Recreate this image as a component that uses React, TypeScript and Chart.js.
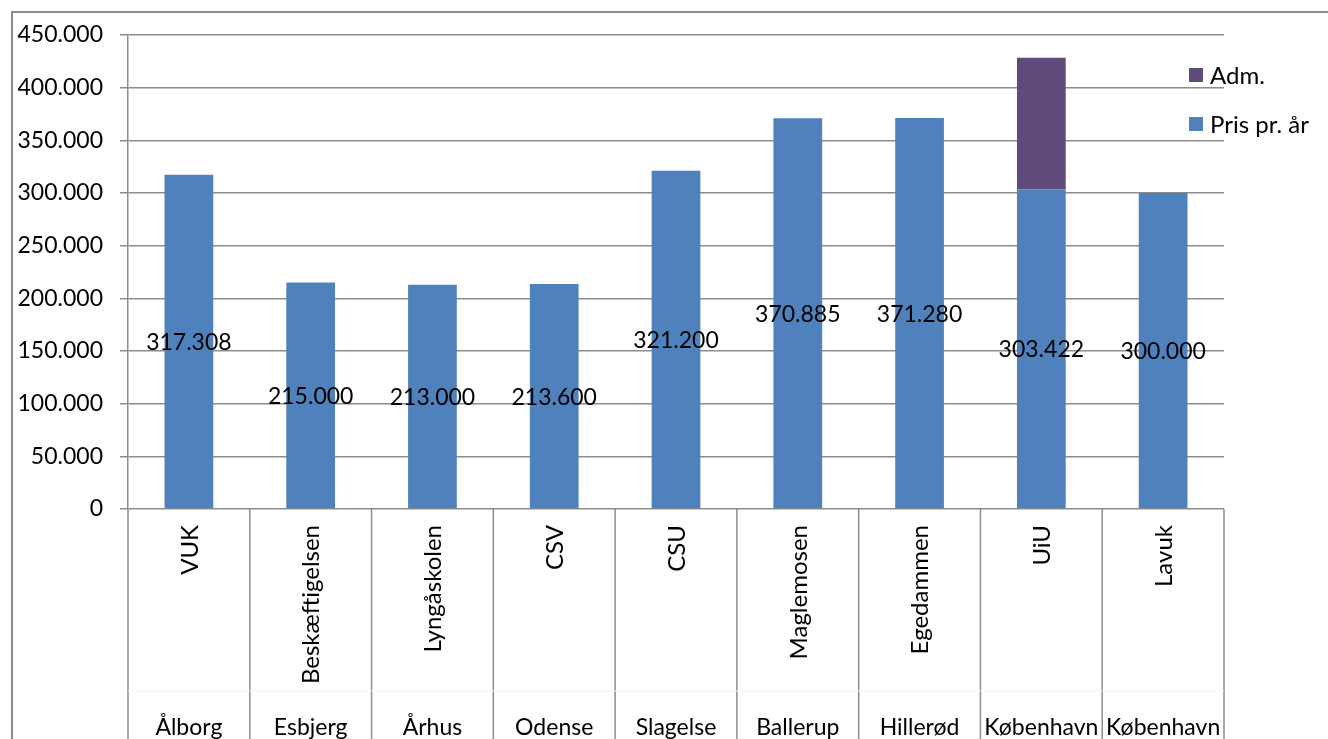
import React, { useEffect, useRef } from "react";
import { Chart, registerables } from "chart.js";

Chart.register(...registerables);

const schools = ["VUK", "Beskæftigelsen", "Lyngåskolen", "CSV", "CSU", "Maglemosen", "Egedammen", "UiU", "Lavuk"];
const cities = ["Ålborg", "Esbjerg", "Århus", "Odense", "Slagelse", "Ballerup", "Hillerød", "København", "København"];
const prisPrAar = [317308, 215000, 213000, 213600, 321200, 370885, 371280, 303422, 300000];
const adm = [null, null, null, null, null, null, null, 125000, null];
const legendItems = ["Adm.", "Pris pr. år"];

const BLUE = "#4F81BD";
const PURPLE = "#604A7B";
const GRID = "#8c8c8c";
const FONT = "Lato";

const fmt = (n: number) => String(Math.round(n)).replace(/\B(?=(\d{3})+(?!\d))/g, ".");

const decorPlugin = {
  id: "decor",
  afterDatasetsDraw(chart: any) {
    const { ctx } = chart;
    const meta = chart.getDatasetMeta(0);
    ctx.save();
    ctx.fillStyle = "#000";
    ctx.font = `23px ${FONT}`;
    ctx.textAlign = "center";
    ctx.textBaseline = "middle";
    meta.data.forEach((bar: any, i: number) => {
      const v = prisPrAar[i];
      ctx.fillText(fmt(v), bar.x, (bar.y + bar.base) / 2 + 1);
    });
    ctx.restore();
  },
  afterDraw(chart: any) {
    const { ctx, chartArea, width, height } = chart;
    const xs = chart.scales.x;
    ctx.save();
    // outer border (left and top)
    ctx.strokeStyle = GRID;
    ctx.lineWidth = 2;
    ctx.beginPath();
    ctx.moveTo(12, height + 2);
    ctx.lineTo(12, 12);
    ctx.lineTo(width + 2, 12);
    ctx.stroke();

    // category separators
    const n = schools.length;
    ctx.lineWidth = 1.5;
    for (let i = 0; i <= n; i++) {
      const x = i === 0 ? chartArea.left : i === n ? chartArea.right : (xs.getPixelForValue(i - 1) + xs.getPixelForValue(i)) / 2;
      ctx.beginPath();
      ctx.moveTo(x, chartArea.bottom);
      ctx.lineTo(x, height);
      ctx.stroke();
    }
    // faint row separator
    ctx.strokeStyle = "#f6f6f6";
    ctx.lineWidth = 1;
    ctx.beginPath();
    ctx.moveTo(chartArea.left, chartArea.bottom + 182);
    ctx.lineTo(chartArea.right, chartArea.bottom + 182);
    ctx.stroke();

    // category labels
    ctx.fillStyle = "#000";
    schools.forEach((s, i) => {
      const cx = xs.getPixelForValue(i);
      ctx.save();
      ctx.font = `24px ${FONT}`;
      ctx.translate(cx + 1, chartArea.bottom + 16);
      ctx.rotate(-Math.PI / 2);
      ctx.textAlign = "right";
      ctx.textBaseline = "middle";
      ctx.fillText(s, 0, 0);
      ctx.restore();
      ctx.font = `23px ${FONT}`;
      ctx.textAlign = "center";
      ctx.textBaseline = "alphabetic";
      ctx.fillText(cities[i], cx, chartArea.bottom + 226);
    });

    // legend
    const colors = [PURPLE, BLUE];
    ctx.font = `24px ${FONT}`;
    legendItems.forEach((t, i) => {
      const y = 75 + i * 49;
      ctx.fillStyle = colors[i];
      ctx.fillRect(1189, y - 7, 14, 14);
      ctx.fillStyle = "#000";
      ctx.textAlign = "left";
      ctx.textBaseline = "middle";
      ctx.fillText(t, 1210, y + 1);
    });
    ctx.restore();
  },
};

export default function App() {
  const ref = useRef<HTMLCanvasElement>(null);
  useEffect(() => {
    document.body.style.margin = "0";
    const chart = new Chart(ref.current!, {
      type: "bar",
      data: {
        labels: schools,
        datasets: [
          { label: "Pris pr. år", data: prisPrAar, backgroundColor: BLUE, categoryPercentage: 1, barPercentage: 0.4 },
          { label: "Adm.", data: adm as any, backgroundColor: PURPLE, categoryPercentage: 1, barPercentage: 0.4 },
        ],
      },
      options: {
        responsive: false,
        animation: false,
        devicePixelRatio: 1,
        layout: { padding: { left: 0, top: 35, right: 104, bottom: 230 } },
        plugins: { legend: { display: false }, tooltip: { enabled: false } },
        scales: {
          x: { stacked: true, display: false },
          y: {
            stacked: true,
            min: 0,
            max: 450000,
            afterFit: (s: any) => {
              s.width = 128;
            },
            ticks: {
              stepSize: 50000,
              padding: 17,
              color: "#000",
              font: { family: FONT, size: 23 },
              callback: (v: any) => fmt(Number(v)),
            },
            grid: { color: GRID, lineWidth: 1.5, tickLength: 8 },
            border: { color: GRID, width: 1.5 },
          },
        },
      },
      plugins: [decorPlugin],
    });
    return () => chart.destroy();
  }, []);
  return (
    <div style={{ position: "absolute", left: 0, top: 0, width: 1328, height: 739 }}>
      <canvas ref={ref} width={1328} height={739} style={{ width: 1328, height: 739, display: "block" }} />
    </div>
  );
}
